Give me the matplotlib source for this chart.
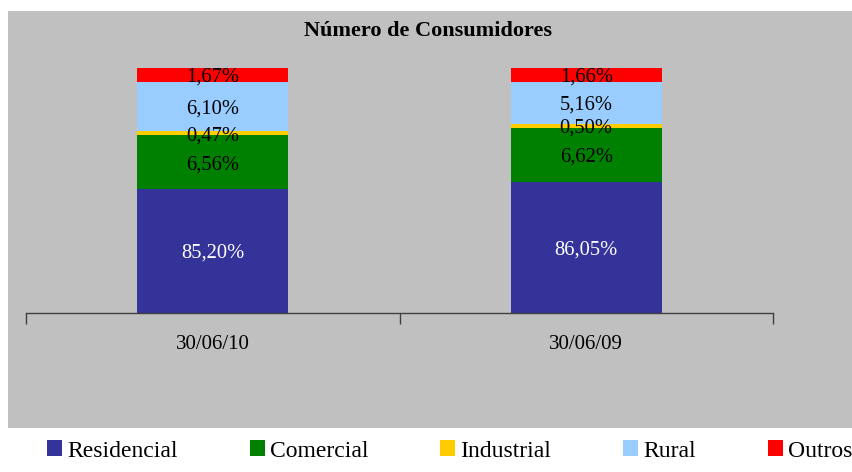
import matplotlib
matplotlib.use("Agg")
import matplotlib.pyplot as plt
from matplotlib.patches import Rectangle, Patch
import numpy as np

plt.rcParams['font.family'] = ['Liberation Serif', 'DejaVu Serif']

title = "Número de Consumidores"
categories = ["30/06/10", "30/06/09"]
series = ["Residencial", "Comercial", "Industrial", "Rural", "Outros"]
residencial = [85.20, 86.05]
comercial = [6.56, 6.62]
industrial = [0.47, 0.50]
rural = [6.10, 5.16]
outros = [1.67, 1.66]
colors = ["#333399", "#008000", "#FFCC00", "#99CCFF", "#FF0000"]
label_colors = ["white", "black", "black", "black", "black"]
y_min, y_max = 70, 100

W, H = 852, 472
fig = plt.figure(figsize=(W / 100, H / 100), dpi=100)
fig.patch.set_facecolor("white")
fig.patches.append(Rectangle((8 / W, 1 - 428 / H), 1 - 8 / W, (428 - 11) / H,
                             transform=fig.transFigure, facecolor="#C0C0C0",
                             edgecolor="none", zorder=-5))

ax = fig.add_axes([26 / W, 1 - 313 / H, (773 - 26) / W, (313 - 68) / H])
ax.set_zorder(2)
ax.set_facecolor("none")

x = np.arange(len(categories)) + 0.5
width = 151 / 373.5
bottom = np.zeros(len(categories))
data = [residencial, comercial, industrial, rural, outros]
for vals, col, lc, name in zip(data, colors, label_colors, series):
    vals = np.array(vals)
    ax.bar(x, vals, width, bottom=bottom, color=col, edgecolor="none", label=name)
    for xi, b, v in zip(x, bottom, vals):
        lo = max(b, y_min)
        hi = b + v
        ax.text(xi, (lo + hi) / 2, f"{v:.2f}%".replace(".", ","), ha="center",
                va="center_baseline", color=lc, fontsize=14.75)
    bottom = bottom + vals

ax.set_xlim(0, len(categories))
ax.set_ylim(y_min, y_max)
for s in ["top", "right", "left"]:
    ax.spines[s].set_visible(False)
ax.spines["bottom"].set_color("#404040")
ax.spines["bottom"].set_linewidth(1.0)
ax.set_yticks([])
ax.set_xticks(np.arange(len(categories) + 1))
ax.set_xticklabels([])
ax.tick_params(axis="x", which="major", length=8, width=1.0, color="#404040", direction="out")
ax.set_xticks(x, minor=True)
ax.set_xticklabels(categories, minor=True, fontsize=15)
ax.tick_params(axis="x", which="minor", length=0, pad=16)

fig.text(428 / W, 1 - 31 / H, title, ha="center", va="center",
         fontsize=16, fontweight="bold", zorder=3)

handles = [Patch(facecolor=c, edgecolor="none") for c in colors]
fig.legend(handles, series, loc="center left", bbox_to_anchor=(47 / W, 1 - 451 / H),
           ncol=5, frameon=False, fontsize=17, handlelength=0.64, handleheight=0.64,
           handletextpad=0.21, columnspacing=3.05, borderpad=0, borderaxespad=0)

fig.savefig("out.png", dpi=100, facecolor="white")
